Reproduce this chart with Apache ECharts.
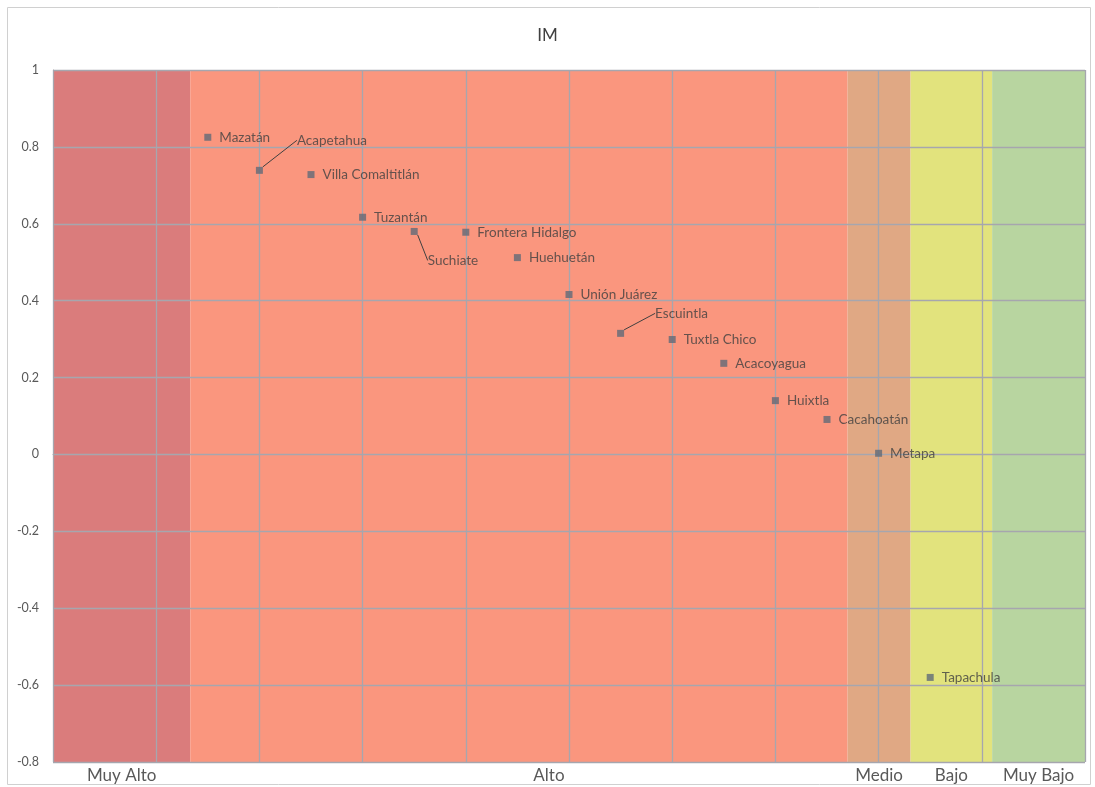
<!DOCTYPE html>
<html><head><meta charset="utf-8">
<script src="https://cdn.jsdelivr.net/npm/echarts@6/dist/echarts.min.js"></script>
<style>html,body{margin:0;padding:0;background:#fff}#c{width:1095px;height:787px}</style>
</head><body><div id="c"></div>
<script>
const municipios = ['Mazatán','Acapetahua','Villa Comaltitlán','Tuzantán','Suchiate','Frontera Hidalgo','Huehuetán','Unión Juárez','Escuintla','Tuxtla Chico','Acacoyagua','Huixtla','Cacahoatán','Metapa','Tapachula'];
const xPos = [1.5, 2, 2.5, 3, 3.5, 4, 4.5, 5, 5.5, 6, 6.5, 7, 7.5, 8, 8.5];
const imValues = [0.825, 0.739, 0.728, 0.617, 0.580, 0.578, 0.512, 0.416, 0.315, 0.299, 0.237, 0.140, 0.091, 0.003, -0.580];
const bandNames = ['Muy Alto','Alto','Medio','Bajo','Muy Bajo'];
const bandEdges = [0, 1.33, 7.70, 8.31, 9.10, 10];
const bandColors = ['#DA7C7C','#FA967E','#E0A884','#E2E37D','#B8D5A0'];
const yTicks = [-0.8, -0.6, -0.4, -0.2, 0, 0.2, 0.4, 0.6, 0.8, 1];

// label displacement (pixels) for labels drawn with leader lines
const labelMoves = { 'Acapetahua': [26, -30], 'Suchiate': [2, 29], 'Escuintla': [23, -20] };

const chart = echarts.init(document.getElementById('c'));
const FONT = 'Lato';

const bandData = bandNames.map((n, i) => [
  { name: n, xAxis: bandEdges[i], itemStyle: { color: bandColors[i] },
    label: { offset: n === 'Alto' ? [30, 0] : [0, 0] } },
  { xAxis: bandEdges[i + 1] }
]);

const pts = municipios.map((m, i) => {
  const d = { name: m, value: [xPos[i], imValues[i]] };
  if (labelMoves[m]) d.labelLine = { show: true };
  return d;
});

chart.setOption({
  animation: false,
  textStyle: { fontFamily: FONT },
  title: { text: 'IM', left: 'center', top: 22, textStyle: { fontSize: 17, fontWeight: 'normal', color: '#404040', fontFamily: FONT } },
  graphic: [{ type: 'rect', shape: { x: 7.5, y: 7.5, width: 1083, height: 777 }, style: { fill: 'none', stroke: '#D0D0D0', lineWidth: 1 }, z: -10 }],
  grid: { left: 53, right: 10, top: 70, bottom: 25 },
  xAxis: {
    type: 'value', min: 0, max: 10, interval: 1, z: 5,
    axisLabel: { show: false }, axisTick: { show: false },
    axisLine: { show: true, lineStyle: { color: '#A6A6AE', width: 1 } },
    splitLine: { show: true, lineStyle: { color: '#A6A6AE', width: 1.3 } }
  },
  yAxis: {
    type: 'value', min: -0.8, max: 1, interval: 0.2, z: 5,
    axisLabel: { color: '#595959', fontSize: 12.5, margin: 14, fontFamily: FONT,
      customValues: yTicks, formatter: v => String(Math.round(v * 10) / 10) },
    axisTick: { show: false },
    axisLine: { show: true, lineStyle: { color: '#A6A6AE', width: 1 } },
    splitLine: { show: true, lineStyle: { color: '#A6A6AE', width: 1.3 } }
  },
  series: [
    {
      type: 'scatter', data: [], z: 1, silent: true,
      markArea: {
        silent: true,
        label: { show: true, position: 'bottom', distance: 5, color: '#595959', fontSize: 17, fontFamily: FONT },
        data: bandData
      }
    },
    {
      type: 'scatter', z: 10,
      symbol: 'rect', symbolSize: 7,
      itemStyle: { color: '#606A78' },
      label: { show: true, position: 'right', distance: 8, formatter: p => p.name, color: '#404040', fontSize: 13.5, fontFamily: FONT },
      labelLine: { show: false, lineStyle: { color: '#404040', width: 1 } },
      labelLayout: p => {
        const mv = labelMoves[municipios[p.dataIndex]];
        return mv ? { dx: mv[0], dy: mv[1] } : {};
      },
      data: pts
    }
  ]
});
</script></body></html>
